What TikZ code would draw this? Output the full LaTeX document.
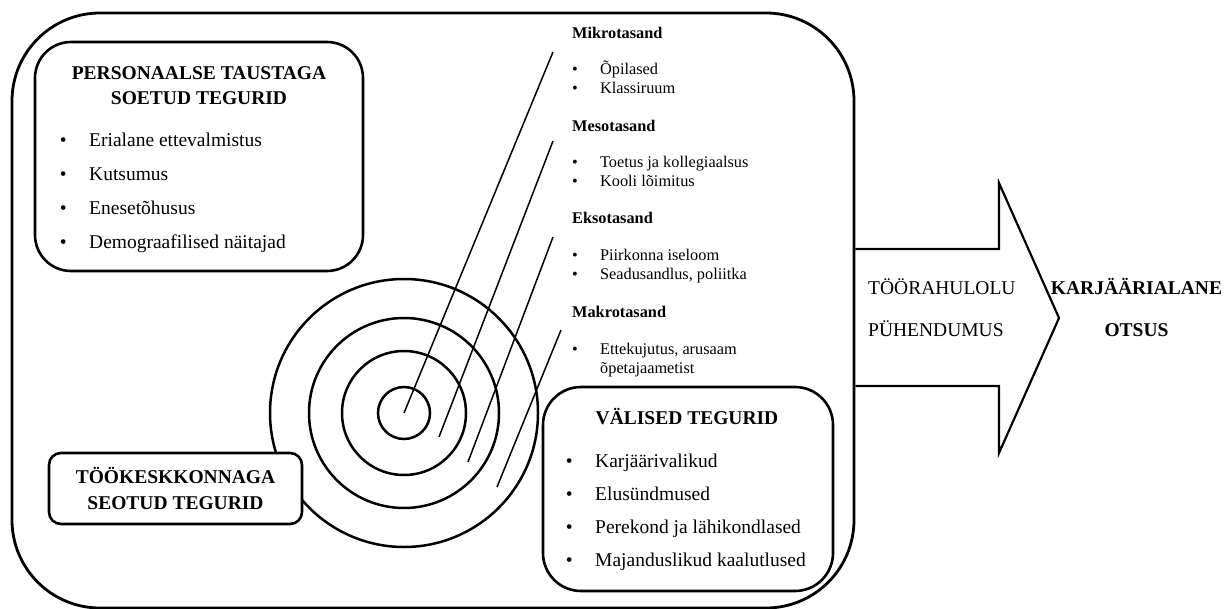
\documentclass[tikz,border=0pt]{standalone}
\usepackage{fontspec}
\setmainfont{Liberation Serif}
\usepackage{tikz}
\usetikzlibrary{positioning}
\newcommand{\bigsize}{\fontsize{19.5}{24}\selectfont}
\newcommand{\smallsize}{\fontsize{16.3}{19.5}\selectfont}
\newcommand{\bul}[2][29.4pt]{\makebox[#1][l]{\textbullet}#2}

\begin{document}
\begin{tikzpicture}[x=1pt,y=-1pt,
    frame/.style={rectangle,draw,line width=2.8pt,rounded corners=88pt,minimum width=842pt,minimum height=595pt,inner sep=0pt},
    factor/.style={rectangle,draw,line width=2.6pt,fill=white,inner sep=0pt},
    ring/.style={circle,draw,line width=2.5pt,inner sep=0pt},
    ray/.style={line width=1.5pt},
    title/.style={font=\bigsize\bfseries,anchor=base,inner sep=0pt},
    item/.style={font=\bigsize,anchor=base west,inner sep=0pt},
    level/.style={font=\smallsize\bfseries,anchor=base west,inner sep=0pt},
    sitem/.style={font=\smallsize,anchor=base west,inner sep=0pt}
]
\useasboundingbox (0,0) rectangle (1225,609);
\node[frame] (frame) at (433,310.5) {};

\node[ring,minimum size=268pt] (ring4) at (404,413) {};
\node[ring,minimum size=190pt] (ring3) at (404,413) {};
\node[ring,minimum size=124pt] (ring2) at (404,413) {};
\node[ring,minimum size=52pt] (ring1) at (404,413) {};

\coordinate (mikro) at (553,52);
\coordinate (meso) at (553,141);
\coordinate (ekso) at (553,237);
\coordinate (makro) at (561,330);
\coordinate (meso-foot) at (439,437);
\coordinate (ekso-foot) at (468,462);
\coordinate (makro-foot) at (497,487);
\draw[ray] (ring1.center) -- (mikro);
\draw[ray] (meso-foot) -- (meso);
\draw[ray] (ekso-foot) -- (ekso);
\draw[ray] (makro-foot) -- (makro);

\node[factor,rounded corners=36pt,minimum width=328pt,minimum height=229pt] (personal) at (199,156.5) {};
\node[title] (personal-t1) at (199,80) {PERSONAALSE TAUSTAGA};
\node[title] (personal-t2) at (199,105) {SOETUD TEGURID};
\node[item] (personal-1) at (59.6,146.5) {\bul{Erialane ettevalmistus}};
\node[item] (personal-2) at (59.6,180.5) {\bul{Kutsumus}};
\node[item] (personal-3) at (59.6,214.5) {\bul{Enesetõhusus}};
\node[item] (personal-4) at (59.6,248.5) {\bul{Demograafilised näitajad}};

\node[factor,rounded corners=12pt,minimum width=253pt,minimum height=71pt] (work) at (175.5,488.5) {};
\node[title] (work-t1) at (175.5,483.5) {TÖÖKESKKONNAGA};
\node[title] (work-t2) at (175.5,509.5) {SEOTUD TEGURID};

\node[factor,rounded corners=38pt,minimum width=290pt,minimum height=204pt] (outer) at (688,489) {};
\node[title] (outer-t) at (687,424) {VÄLISED TEGURID};
\node[item] (outer-1) at (565.6,467.5) {\bul{Karjäärivalikud}};
\node[item] (outer-2) at (565.6,500.5) {\bul{Elusündmused}};
\node[item] (outer-3) at (565.6,533.5) {\bul{Perekond ja lähikondlased}};
\node[item] (outer-4) at (565.6,566.5) {\bul{Majanduslikud kaalutlused}};

\node[level] (mikro-t) at (572,38.5) {Mikrotasand};
\node[sitem] (mikro-1) at (572,74.5) {\bul[27.9pt]{Õpilased}};
\node[sitem] (mikro-2) at (572,93.5) {\bul[27.9pt]{Klassiruum}};
\node[level] (meso-t) at (572,131.5) {Mesotasand};
\node[sitem] (meso-1) at (572,167.5) {\bul[27.9pt]{Toetus ja kollegiaalsus}};
\node[sitem] (meso-2) at (572,187) {\bul[27.9pt]{Kooli lõimitus}};
\node[level] (ekso-t) at (572,223.5) {Eksotasand};
\node[sitem] (ekso-1) at (572,260.5) {\bul[27.9pt]{Piirkonna iseloom}};
\node[sitem] (ekso-2) at (572,280) {\bul[27.9pt]{Seadusandlus, poliitka}};
\node[level] (makro-t) at (572,318) {Makrotasand};
\node[sitem] (makro-1) at (572,354) {\bul[27.9pt]{Ettekujutus, arusaam}};
\node[sitem] (makro-2) at (600,373) {õpetajaametist};

\draw[line width=2.2pt] (frame.east |- 0,249) -- (999,249) -- (999,183) -- (1059,318)
    -- (999,453) -- (999,386) -- (frame.east |- 0,386);
\node[item,font=\bigsize] (satisfaction) at (868,295) {TÖÖRAHULOLU};
\node[item,font=\bigsize] (commitment) at (868,337) {PÜHENDUMUS};
\node[title] (decision-1) at (1136.5,295) {KARJÄÄRIALANE};
\node[title] (decision-2) at (1136.5,337) {OTSUS};
\end{tikzpicture}
\end{document}
